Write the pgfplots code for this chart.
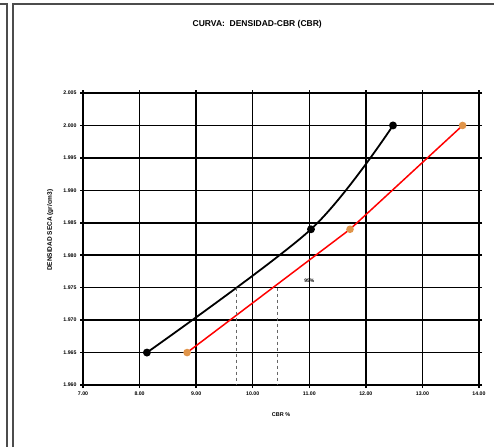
\documentclass[border=0pt]{standalone}
\usepackage{fontspec}
\setmainfont{Liberation Sans}
\usepackage{pgfplots}
\pgfplotsset{compat=1.18}
\definecolor{orpt}{HTML}{E0954A}
\begin{document}
\begin{tikzpicture}[x=1pt,y=1pt]
\useasboundingbox (0,0) rectangle (494,447);
\draw[line width=1.1pt, black!70] (0,443) -- (7,443) -- (7,0);
\draw[line width=1.1pt, black!70] (13,0) -- (13,443) -- (494,443);
\begin{axis}[at={(83pt,62pt)}, anchor=south west, scale only axis,
  width=396pt, height=292pt,
  xmin=7, xmax=14, ymin=1.960, ymax=2.005,
  xtick={7,8,9,10,11,12,13,14},
  ytick={1.960,1.965,1.970,1.975,1.980,1.985,1.990,1.995,2.000,2.005},
  grid=major, major grid style={black, line width=1.5pt},
  axis line style={black, line width=1.5pt},
  tick style={black, line width=1.5pt}, tick align=outside, major tick length=3pt,
  /pgf/number format/assume math mode=true,
  xticklabel style={/pgf/number format/.cd, fixed, fixed zerofill, precision=2},
  yticklabel style={/pgf/number format/.cd, fixed, fixed zerofill, precision=3},
  ticklabel style={font=\fontsize{5.2}{6}\selectfont\bfseries},
  scaled y ticks=false,
  xlabel={CBR \%}, ylabel={DENSIDAD SECA (gr/cm3)},
  xlabel style={font=\fontsize{5.5}{6}\selectfont\bfseries, at={(axis description cs:0.50,-0.10)}, anchor=center},
  ylabel style={font=\fontsize{6.5}{7}\selectfont\bfseries, at={(axis description cs:-0.083,0.53)}, anchor=center, rotate=0},
  title={CURVA:\ \ DENSIDAD-CBR (CBR)},
  title style={font=\fontsize{8.5}{10}\selectfont\bfseries, at={(axis description cs:0.44,1)}, anchor=center, yshift=63pt},
  clip=false,
]
\addplot[black, line width=1.8pt, smooth, mark=*, mark size=3pt, mark options={fill=black}]
  coordinates {(8.13,1.965) (11.03,1.984) (12.48,2.000)};
\addplot[red, line width=1.5pt, mark=*, mark size=3pt, mark options={fill=orpt, draw=orpt}]
  coordinates {(8.84,1.965) (11.72,1.984) (13.71,2.000)};
\addplot[black!60, dashed, line width=0.9pt] coordinates {(9.72,1.975) (9.72,1.960)};
\addplot[black!60, dashed, line width=0.9pt] coordinates {(10.43,1.975) (10.43,1.960)};
\node[font=\fontsize{5}{5}\selectfont\bfseries, anchor=south] at (axis cs:11.0,1.9752) {95\%};
\end{axis}
\end{tikzpicture}
\end{document}
